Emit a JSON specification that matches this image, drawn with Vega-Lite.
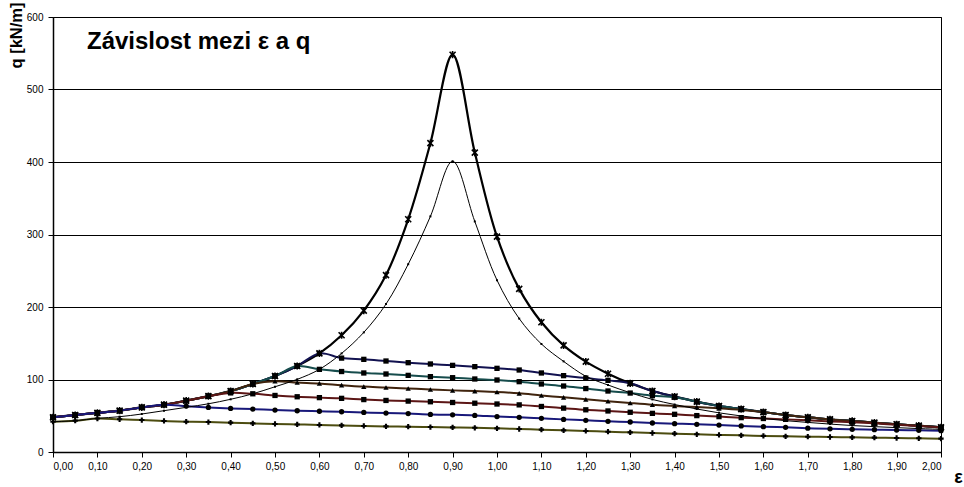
{
  "$schema": "https://vega.github.io/schema/vega-lite/v6.json",
  "autosize": {"type": "none"},
  "padding": {"left": 53, "top": 17, "right": 23, "bottom": 35},
  "width": 888,
  "height": 435,
  "background": "#ffffff",
  "title": {"text": "Závislost mezi ε a q", "anchor": "start", "frame": "group", "orient": "top", "offset": 0, "dx": 34, "dy": 71, "baseline": "alphabetic", "font": "Liberation Sans", "fontSize": 24, "fontWeight": "bold", "color": "#000000"},
  "config": {
    "view": {"stroke": "#000000", "strokeWidth": 1},
    "axis": {"labelFont": "Liberation Sans", "labelFontSize": 10, "labelColor": "#000000", "domainColor": "#000000", "tickColor": "#000000", "tickSize": 5, "titleFont": "Liberation Sans", "titleColor": "#000000", "titleFontWeight": "bold"}
  },
  "datasets": {
    "t": [
      {"e":0,"A":47.8,"B":41.8,"C":47.8,"D":47.8,"E":47.8,"F":47.8,"G":47.8,"H":41.8},
      {"e":0.05,"A":51,"B":43.2,"C":51,"D":51,"E":51,"F":51,"G":51,"H":43.2},
      {"e":0.1,"A":54,"B":46.4,"C":54,"D":54,"E":54,"F":54,"G":54,"H":46.2},
      {"e":0.15,"A":57,"B":48.7,"C":57,"D":57,"E":57,"F":57,"G":57,"H":45.1},
      {"e":0.2,"A":61.5,"B":52.4,"C":61.5,"D":61.5,"E":61.5,"F":61.5,"G":61.5,"H":44.1},
      {"e":0.25,"A":65.3,"B":57,"C":65.3,"D":65.3,"E":65.3,"F":65.3,"G":65.3,"H":42.8},
      {"e":0.3,"A":70.8,"B":61.6,"C":70.8,"D":70.8,"E":70.8,"F":70.8,"G":63.3,"H":41.8},
      {"e":0.35,"A":77,"B":66.5,"C":77,"D":77,"E":77,"F":77,"G":61.5,"H":41.3},
      {"e":0.4,"A":84,"B":72.7,"C":84,"D":84,"E":84,"F":81.5,"G":60.1,"H":40.5},
      {"e":0.45,"A":93.8,"B":80.3,"C":93.8,"D":93.8,"E":93.8,"F":80.3,"G":59.2,"H":39.5},
      {"e":0.5,"A":104.8,"B":90,"C":104.8,"D":104.8,"E":97.5,"F":78,"G":57.8,"H":38.7},
      {"e":0.55,"A":118.6,"B":100.2,"C":118.6,"D":118.6,"E":95.8,"F":76.2,"G":56.9,"H":38},
      {"e":0.6,"A":136,"B":114,"C":136,"D":114,"E":94.6,"F":75,"G":56.2,"H":37.3},
      {"e":0.65,"A":161,"B":136,"C":129.5,"D":111,"E":92.2,"F":74,"G":55.5,"H":36.7},
      {"e":0.7,"A":195,"B":165,"C":127.8,"D":109,"E":90.2,"F":72.3,"G":54.6,"H":35.9},
      {"e":0.75,"A":244,"B":204,"C":125.5,"D":107.6,"E":89,"F":71.1,"G":53.7,"H":35.3},
      {"e":0.8,"A":321,"B":259,"C":123.2,"D":105.7,"E":87.6,"F":70.2,"G":53,"H":34.9},
      {"e":0.85,"A":426,"B":325,"C":121.4,"D":103.9,"E":86.2,"F":69.3,"G":51.8,"H":34.4},
      {"e":0.9,"A":548,"B":401,"C":119.5,"D":102.5,"E":85,"F":68.3,"G":51.3,"H":33.9},
      {"e":0.95,"A":413,"B":318,"C":117.7,"D":100.7,"E":84,"F":67.3,"G":50.5,"H":33.4},
      {"e":1,"A":297,"B":237,"C":115.4,"D":99.3,"E":82.8,"F":66.2,"G":48.9,"H":32.6},
      {"e":1.05,"A":225,"B":184,"C":113.1,"D":97,"E":80.9,"F":65,"G":47.8,"H":31.7},
      {"e":1.1,"A":179,"B":149,"C":109,"D":93.8,"E":78,"F":62.8,"G":46.4,"H":30.8},
      {"e":1.15,"A":147,"B":125,"C":105.3,"D":91,"E":75.4,"F":60.5,"G":45,"H":29.9},
      {"e":1.2,"A":124.6,"B":104.5,"C":102,"D":87.5,"E":72.6,"F":58.2,"G":43.7,"H":29},
      {"e":1.25,"A":108,"B":92.4,"C":98.8,"D":84.1,"E":70,"F":56.6,"G":42.3,"H":28},
      {"e":1.3,"A":94.7,"B":81.8,"C":94.7,"D":81.3,"E":67.5,"F":54.8,"G":41.4,"H":27.1},
      {"e":1.35,"A":84.1,"B":72.5,"C":84.1,"D":77.7,"E":65.2,"F":53.3,"G":40,"H":26.2},
      {"e":1.4,"A":76.5,"B":65.5,"C":76.5,"D":75.5,"E":63.5,"F":52,"G":39.1,"H":25.3},
      {"e":1.45,"A":69.4,"B":59.3,"C":69.4,"D":69.4,"E":62,"F":50.2,"G":38.2,"H":24.4},
      {"e":1.5,"A":63.4,"B":54,"C":63.4,"D":63.4,"E":60.2,"F":48.8,"G":37.2,"H":23.5},
      {"e":1.55,"A":59.3,"B":49.7,"C":59.3,"D":59.3,"E":58,"F":47.4,"G":35.9,"H":23},
      {"e":1.6,"A":55,"B":46.2,"C":55,"D":55,"E":55,"F":46.2,"G":34.9,"H":22.2},
      {"e":1.65,"A":51,"B":43.2,"C":51,"D":51,"E":51,"F":45,"G":34,"H":21.6},
      {"e":1.7,"A":47.8,"B":40.8,"C":47.8,"D":47.8,"E":47.8,"F":43.7,"G":32.8,"H":21.1},
      {"e":1.75,"A":45,"B":38.5,"C":45,"D":45,"E":45,"F":42.2,"G":31.9,"H":20.7},
      {"e":1.8,"A":42.8,"B":36.5,"C":42.8,"D":42.8,"E":42.8,"F":41,"G":31.3,"H":20.2},
      {"e":1.85,"A":40.5,"B":35,"C":40.5,"D":40.5,"E":40.5,"F":39.5,"G":30.8,"H":19.8},
      {"e":1.9,"A":38.2,"B":33.6,"C":38.2,"D":38.2,"E":38.2,"F":37.6,"G":30.3,"H":19.3},
      {"e":1.95,"A":36.3,"B":32.3,"C":36.3,"D":36.3,"E":36.3,"F":35.8,"G":29.9,"H":18.9},
      {"e":2,"A":34,"B":31.3,"C":34,"D":34,"E":34,"F":33.8,"G":29.4,"H":18.4}
    ]
  },
  "data": {"name": "t"},
  "transform": [{"fold": ["A","B","C","D","E","F","G","H"], "as": ["s","q"]}],
  "encoding": {
    "x": {"field": "e", "type": "quantitative", "scale": {"domain": [0, 2], "nice": false},
      "axis": {"values": [0,0.1,0.2,0.3,0.4,0.5,0.6,0.7,0.8,0.9,1,1.1,1.2,1.3,1.4,1.5,1.6,1.7,1.8,1.9,2], "labelExpr": "replace(format(datum.value, '.2f'), '.', ',')", "grid": false, "labelPadding": 4, "domainWidth": 1.5, "title": "ε", "titleFontSize": 18, "titleFontWeight": "bold", "titleX": 905, "titleY": 30, "titleBaseline": "alphabetic", "titleAlign": "center"}},
    "y": {"field": "q", "type": "quantitative", "scale": {"domain": [0, 600], "nice": false},
      "axis": {"values": [0,100,200,300,400,500,600], "grid": true, "gridColor": "#000000", "gridWidth": 1, "gridOpacity": 1, "labelPadding": 5, "domainWidth": 1.5, "title": "q [kN/m]", "titleFontSize": 16.5, "titleFontWeight": "bold", "titleX": -32, "titleY": 18, "titleAlign": "center", "titleBaseline": "alphabetic", "titleAngle": -90}}
  },
  "layer": [
    {"transform": [{"filter": "datum.s === 'A'"}], "mark": {"type": "line", "color": "#000000", "strokeWidth": 2.2, "interpolate": "catmull-rom"}},
    {"transform": [{"filter": "datum.s !== 'A' && datum.s !== 'B'"}], "mark": {"type": "line", "strokeWidth": 2, "interpolate": "catmull-rom"},
      "encoding": {"color": {"field": "s", "type": "nominal", "legend": null, "scale": {"domain": ["C","D","E","F","G","H"], "range": ["#121250","#164c4c","#40240e","#5c1616","#18187a","#4c4c10"]}}}},
    {"transform": [{"filter": "datum.s === 'B'"}], "mark": {"type": "line", "color": "#000000", "strokeWidth": 1, "interpolate": "catmull-rom"}},
    {"transform": [{"filter": "datum.s !== 'A' && datum.s !== 'B'"}], "mark": {"type": "point", "filled": true, "color": "#000000", "opacity": 1, "size": 28},
      "encoding": {"shape": {"field": "s", "type": "nominal", "legend": null, "scale": {"domain": ["C","D","E","F","G","H"], "range": ["square","square","triangle-up","square","circle","cross"]}}}},
    {"transform": [{"filter": "datum.s === 'A'"}], "mark": {"type": "point", "filled": false, "color": "#000000", "opacity": 1, "size": 36, "strokeWidth": 1.6, "shape": "M-1,-1L1,1M-1,1L1,-1M0,-1.2L0,1.2"}},
    {"transform": [{"filter": "datum.s === 'B'"}], "mark": {"type": "point", "filled": true, "color": "#000000", "opacity": 1, "size": 4, "shape": "square"}}
  ]
}
